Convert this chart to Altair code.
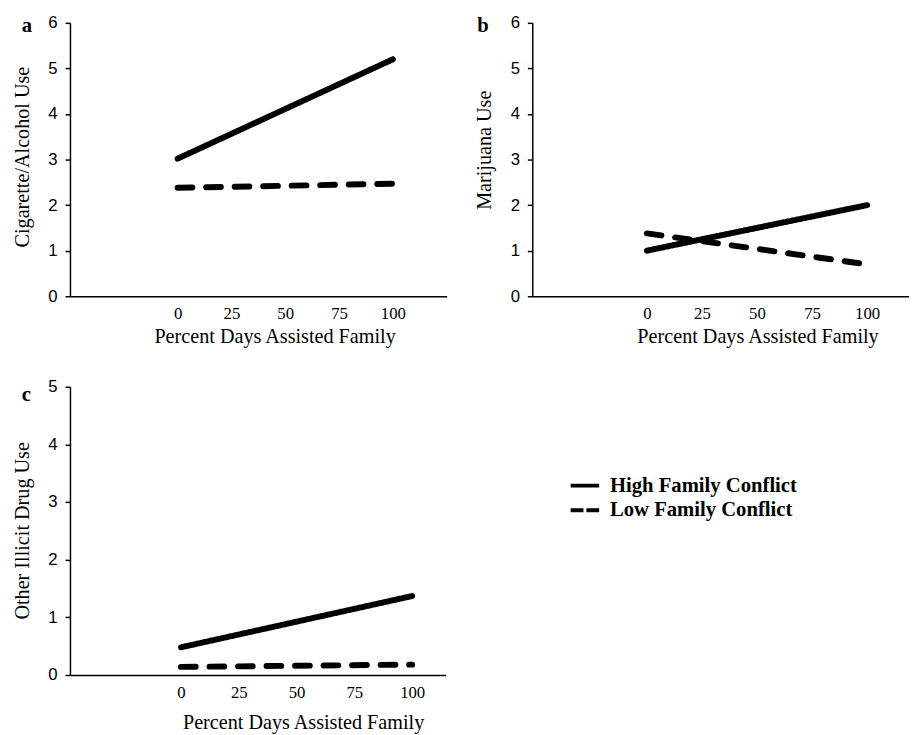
import altair as alt
import pandas as pd

# ---- data ----
x_vals = [0, 100]
series = ["High Family Conflict", "Low Family Conflict"]
a_high = [3.02, 5.2]
a_low = [2.38, 2.47]
b_high = [1.0, 2.0]
b_low = [1.38, 0.70]
c_high = [0.48, 1.37]
c_low = [0.14, 0.18]
x_ticks = [0, 25, 50, 75, 100]

SERIF = "Liberation Serif"
SANS = "Liberation Sans"


def frame(high, low):
    rows = []
    for xv, h, l in zip(x_vals, high, low):
        rows.append({"pct": xv, "use": h, "conflict": series[0]})
        rows.append({"pct": xv, "use": l, "conflict": series[1]})
    return pd.DataFrame(rows)


def panel(df, letter, ytitle, ymax, xdomain, w, h, title_x, x_title_pad,
          x_label_pad, y_title_y, letter_dx, letter_dy):
    return alt.Chart(
        df,
        title=alt.TitleParams(
            letter, anchor="start", frame="group", orient="top", offset=0,
            dx=letter_dx, dy=letter_dy, baseline="alphabetic", font=SERIF,
            fontSize=21, fontWeight="bold", color="black",
        ),
    ).mark_line(strokeWidth=6, strokeCap="round", color="black").encode(
        x=alt.X(
            "pct:Q",
            scale=alt.Scale(domain=xdomain, nice=False, zero=False),
            axis=alt.Axis(
                values=x_ticks, ticks=False, grid=False,
                title="Percent Days Assisted Family", titleX=title_x,
                titlePadding=x_title_pad, labelPadding=x_label_pad,
                labelFont=SERIF, labelFontSize=17, labelColor="black",
                titleFont=SERIF, titleFontSize=20.5, titleFontWeight="normal",
                titleColor="black", domainColor="black", domainWidth=1.5,
                labelFlush=False,
            ),
        ),
        y=alt.Y(
            "use:Q",
            scale=alt.Scale(domain=[0, ymax], nice=False),
            axis=alt.Axis(
                values=list(range(ymax + 1)), grid=False, tickSize=5,
                tickColor="black", tickWidth=1.5, labelPadding=8,
                labelFont=SANS, labelFontSize=17, labelColor="black",
                title=ytitle, titleFont=SERIF, titleFontSize=20.5,
                titleFontWeight="normal", titleColor="black", titlePadding=16,
                titleY=y_title_y, domainColor="black", domainWidth=1.5,
            ),
        ),
        strokeDash=alt.StrokeDash(
            "conflict:N",
            scale=alt.Scale(domain=series, range=[[1, 0], [15, 14]]),
            legend=None,
        ),
    ).properties(width=w, height=h)


panel_a = panel(frame(a_high, a_low), "a", "Cigarette/Alcohol Use", 6,
                [-50, 125], 383, 278, 208, 5, 10, 136, -49, 39.5)
panel_b = panel(frame(b_high, b_low), "b", "Marijuana Use", 6,
                [-52, 119], 383, 278, 229, 5, 10, 129, -56, 39.5)
panel_c = panel(frame(c_high, c_low), "c", "Other Illicit Drug Use", 5,
                [-48, 114.5], 382, 293, 237, 12, 10, 146, -49, 44.5)

legend_view = alt.Chart(frame(c_high, c_low)).mark_line(
    opacity=0, color="black"
).encode(
    x=alt.X("pct:Q", axis=None, scale=alt.Scale(domain=[-48, 114.5])),
    y=alt.Y("use:Q", axis=None, scale=alt.Scale(domain=[0, 5])),
    strokeDash=alt.StrokeDash(
        "conflict:N",
        scale=alt.Scale(domain=series, range=[[1, 0], [13, 3]]),
        legend=alt.Legend(
            title=None, orient="none", legendX=41, legendY=88,
            symbolType="M-1.38,0H1.38", symbolSize=441, symbolStrokeWidth=4,
            symbolStrokeColor="black", symbolOpacity=1,
            labelFont=SERIF, labelFontSize=21, labelFontWeight="bold",
            labelColor="black", labelOffset=13, rowPadding=2, labelLimit=400,
        ),
    ),
).properties(width=383, height=293)

chart = alt.concat(
    panel_a, panel_b, panel_c, legend_view,
    columns=2, spacing={"row": 92, "column": 87}, bounds="flush",
).resolve_scale(
    x="independent", y="independent", strokeDash="independent"
).properties(
    padding={"left": 4, "top": 0, "right": 0, "bottom": 0}
).configure_view(stroke=None)

chart.save("out.html", embed_options={"renderer": "svg", "actions": False})
